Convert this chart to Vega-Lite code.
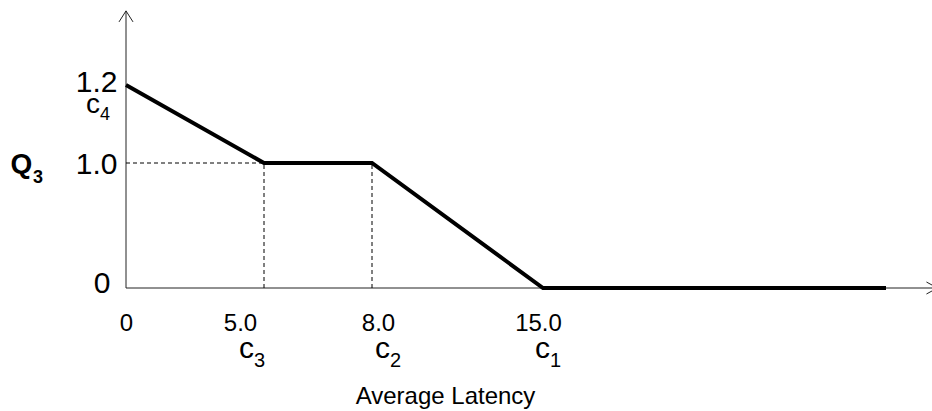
{
  "$schema": "https://vega.github.io/schema/vega-lite/v6.json",
  "autosize": {"type": "none"},
  "padding": {"left": 126, "top": 0, "right": 0, "bottom": 123},
  "width": 806,
  "height": 288,
  "config": {"view": {"stroke": null}, "font": "Liberation Sans"},
  "datasets": {
    "xmarks": [
      {"lat": 5, "q": 0, "sub": "3"},
      {"lat": 8, "q": 0, "sub": "2"},
      {"lat": 15, "q": 0, "sub": "1"}
    ],
    "ymarks": [
      {"lat": 0, "q": 1.2, "sub": "4"}
    ]
  },
  "encoding": {
    "x": {
      "field": "lat",
      "type": "quantitative",
      "scale": {"domain": [0, 5, 8, 15, 29], "range": [0, 138, 246, 417, 760], "nice": false, "zero": false},
      "axis": {
        "values": [0, 5, 8, 15],
        "labelExpr": "datum.value == 0 ? '0' : format(datum.value, '.1f')",
        "domain": false,
        "ticks": false,
        "grid": false,
        "labelFlush": false,
        "labelOverlap": false,
        "labelFontSize": 24,
        "labelColor": "black",
        "labelPadding": 23,
        "labelOffset": {"expr": "datum.value == 5 ? -24 : datum.value == 8 ? 6 : datum.value == 15 ? -5 : 0"},
        "title": "Average Latency",
        "titleFontSize": 24,
        "titleFontWeight": "normal",
        "titleColor": "black",
        "titleX": 319,
        "titleY": 115,
        "titleAlign": "center",
        "titleBaseline": "alphabetic"
      }
    },
    "y": {
      "field": "q",
      "type": "quantitative",
      "scale": {"domain": [0, 1, 1.2], "range": [288, 163, 85], "nice": false, "zero": false},
      "axis": {
        "values": [0, 1, 1.2],
        "labelExpr": "datum.value == 0 ? '0' : format(datum.value, '.1f')",
        "domain": false,
        "ticks": false,
        "grid": false,
        "labelFlush": false,
        "labelOverlap": false,
        "labelFontSize": 30,
        "labelColor": "black",
        "labelPadding": {"expr": "datum.value == 0 ? 16 : 9"},
        "labelBaseline": "middle",
        "labelOffset": {"expr": "datum.value == 0 ? -5 : datum.value == 1.2 ? -3 : 1"},
        "title": "Q",
        "titleAngle": 0,
        "titleFontSize": 28,
        "titleFontWeight": "bold",
        "titleColor": "black",
        "titleX": -116,
        "titleY": 172,
        "titleAlign": "left",
        "titleBaseline": "alphabetic"
      }
    }
  },
  "layer": [
    {
      "data": {"values": [
        {"lat": 0, "lat2": 31.1, "q": 0, "q2": 0},
        {"lat": 0, "lat2": 0, "q": 0, "q2": 1.39}
      ]},
      "mark": {"type": "rule", "color": "#222", "strokeWidth": 1},
      "encoding": {"x2": {"field": "lat2"}, "y2": {"field": "q2"}}
    },
    {
      "data": {"values": [
        {"lat": 0, "lat2": 5, "q": 1, "q2": 1},
        {"lat": 5, "lat2": 5, "q": 0, "q2": 1},
        {"lat": 8, "lat2": 8, "q": 0, "q2": 1}
      ]},
      "mark": {"type": "rule", "color": "black", "strokeWidth": 1, "strokeDash": [4, 3]},
      "encoding": {"x2": {"field": "lat2"}, "y2": {"field": "q2"}}
    },
    {
      "data": {"values": [
        {"lat": 0, "q": 1.2},
        {"lat": 5, "q": 1},
        {"lat": 8, "q": 1},
        {"lat": 15, "q": 0},
        {"lat": 29, "q": 0}
      ]},
      "mark": {"type": "line", "color": "black", "strokeWidth": 4, "strokeJoin": "miter"}
    },
    {
      "data": {"values": [{"lat": 0, "q": 1.39}]},
      "mark": {"type": "point", "shape": "M-7,11L0,0L7,11", "size": 4, "filled": false, "stroke": "#222", "strokeWidth": 1, "opacity": 1}
    },
    {
      "data": {"values": [{"lat": 31.1, "q": 0}]},
      "mark": {"type": "point", "shape": "M-11,-6L0,0L-11,6", "size": 4, "filled": false, "stroke": "#222", "strokeWidth": 1, "opacity": 1}
    },
    {
      "data": {"name": "xmarks"},
      "mark": {"type": "text", "text": "c", "fontSize": 30, "color": "black", "align": "right", "baseline": "alphabetic", "dy": 70,
        "dx": {"expr": "datum.lat == 5 ? -10 : datum.lat == 8 ? 18 : 7"}}
    },
    {
      "data": {"name": "xmarks"},
      "mark": {"type": "text", "fontSize": 20, "color": "black", "align": "left", "baseline": "alphabetic", "dy": 79,
        "dx": {"expr": "datum.lat == 5 ? -10 : datum.lat == 8 ? 18 : 7"}},
      "encoding": {"text": {"field": "sub"}}
    },
    {
      "data": {"name": "ymarks"},
      "mark": {"type": "text", "text": "c", "fontSize": 28, "color": "black", "align": "right", "baseline": "alphabetic", "dx": -26, "dy": 28}
    },
    {
      "data": {"name": "ymarks"},
      "mark": {"type": "text", "fontSize": 18, "color": "black", "align": "left", "baseline": "alphabetic", "dx": -26, "dy": 35},
      "encoding": {"text": {"field": "sub"}}
    },
    {
      "data": {"values": [{"lat": 0, "q": 1, "sub": "3"}]},
      "mark": {"type": "text", "fontSize": 18, "fontWeight": "bold", "color": "black", "align": "left", "baseline": "alphabetic", "dx": -93, "dy": 20},
      "encoding": {"text": {"field": "sub"}}
    }
  ]
}
